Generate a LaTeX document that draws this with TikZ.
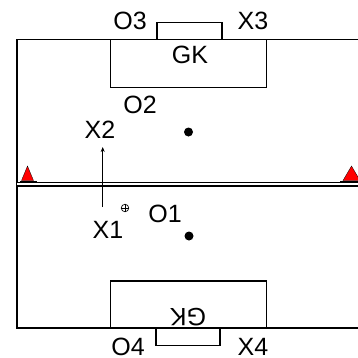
\documentclass[tikz,border=0pt]{standalone}
\usepackage{fontspec}
\setmainfont{Liberation Sans}
\usetikzlibrary{arrows.meta}
\begin{document}
\begin{tikzpicture}[x=1pt,y=-1pt,
  line/.style={line width=1.4pt},
  lbl/.style={font=\fontsize{25}{25}\selectfont, inner sep=0pt},
  cone/.style={fill=red, draw=black, line width=0.3pt},
  dot/.style={circle, fill=black, inner sep=0pt, minimum size=9pt}]
\useasboundingbox (0,0) rectangle (358,357);
% field
\coordinate (tl) at (17,39.5);
\coordinate (tr) at (358,39.5);
\coordinate (bl) at (17,328);
\coordinate (br) at (358,328);
\draw[line] (tr) -- (tl) -- (bl) -- (br);
% penalty boxes
\draw[line] (110.7,39.5) rectangle (266.7,87.3);
\draw[line] (110.7,281) rectangle (266.7,328);
% goals
\draw[line] (157,39.5) -- (157,22.7) -- (222,22.7) -- (222,39.5);
\draw[line] (156,328) -- (156,345.7) -- (220,345.7) -- (220,328);
% midline
\coordinate (ml) at (17,184.3);
\coordinate (mr) at (358,184.3);
\draw[line width=1.1pt, double=white, double distance=2.2pt] (ml) -- (mr);
% cones
\draw[cone] (21.5,180.5) -- (27.5,166) -- (33.5,180.5) -- cycle;
\draw[cone] (343,180.5) -- (351.5,166) -- (360,180.5) -- cycle;
\draw[line width=0.8pt] (20,181.3) -- (37,181.3);
\draw[line width=0.8pt] (340,181.3) -- (358,181.3);
% dots
\node[dot] (d1) at (188.5,132) {};
\node[dot] (d2) at (189,236) {};
% ball
\node[circle, draw=black, line width=0.7pt, inner sep=0pt, minimum size=7.5pt] (ball) at (125,208) {};
\draw[line width=0.5pt] (ball.north) -- (ball.south) (ball.west) -- (ball.east);
% arrow
\coordinate (a1) at (102.7,207);
\coordinate (a2) at (102.7,147);
\draw[line width=0.7pt, -{Stealth[length=5pt,width=4pt]}] (a1) -- (a2);
% labels
\node[lbl] (o3) at (130,21) {O3};
\node[lbl] (x3) at (253,21) {X3};
\node[lbl] (gk1) at (190,55) {GK};
\node[lbl] (o2) at (140,105) {O2};
\node[lbl] (x2) at (100,130) {X2};
\node[lbl] (o1) at (165,214) {O1};
\node[lbl] (x1) at (108,230) {X1};
\node[lbl, rotate=180] (gk2) at (188,317) {GK};
\node[lbl] (o4) at (128,347) {O4};
\node[lbl] (x4) at (253,347) {X4};
\end{tikzpicture}
\end{document}
